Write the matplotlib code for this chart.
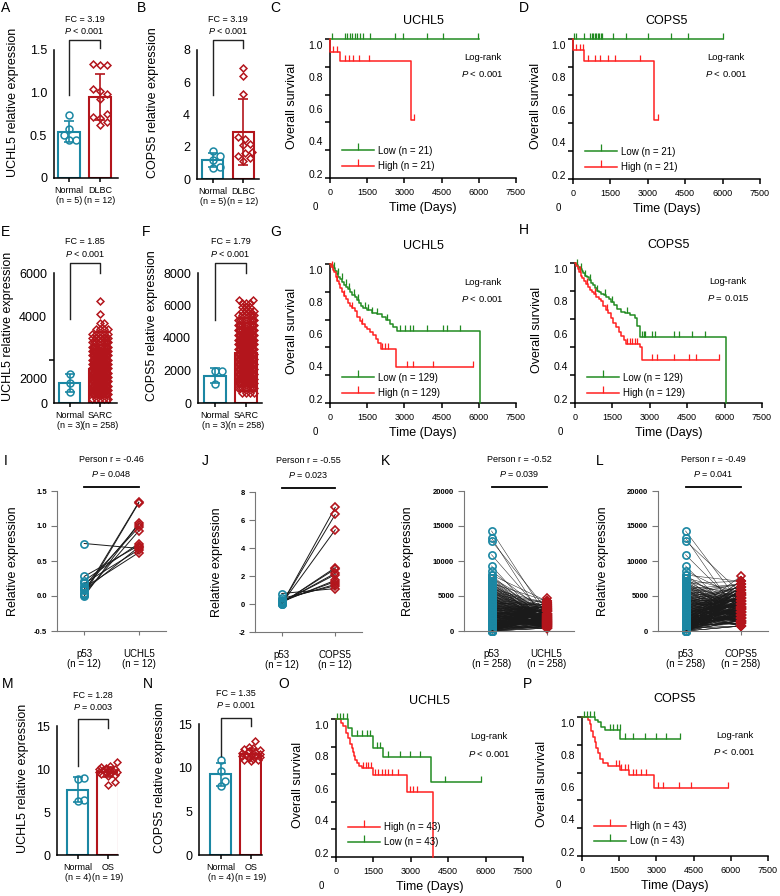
import numpy as np
import matplotlib
matplotlib.use('Agg')
import matplotlib.pyplot as plt
from matplotlib.lines import Line2D
from matplotlib.ticker import FixedLocator

plt.rcParams['font.family'] = ['Liberation Sans', 'DejaVu Sans']
plt.rcParams['mathtext.fontset'] = 'custom'
plt.rcParams['mathtext.it'] = 'Liberation Sans:italic'
plt.rcParams['mathtext.rm'] = 'Liberation Sans'

TEAL = '#1b87a3'
DRED = '#b3151c'
GREEN = '#228b22'
RED = '#ff2020'

# ---------------- data ----------------
# A / B : DLBC
a_normal = [0.74, 0.58, 0.50, 0.45, 0.44]
a_dlbc = [1.34, 1.33, 1.32, 1.04, 1.02, 0.98, 0.93, 0.75, 0.72, 0.70, 0.66, 0.62]
b_normal = [1.75, 1.45, 1.20, 0.75, 0.70]
b_dlbc = [6.9, 6.4, 5.3, 2.6, 2.5, 2.2, 2.1, 1.7, 1.6, 1.4, 1.3, 1.1]

e_normal = [1340, 920, 510]
e_sarc_levels = [200, 400, 600, 800, 1000, 1200, 1400, 1600, 1800, 2000, 2200, 2400,
                 2600, 2800, 3000, 3200, 3400, 3700, 4100, 4700]
e_sarc_counts = [5, 14, 20, 24, 26, 26, 24, 22, 18, 16, 14, 12, 10, 8, 6, 5, 4, 2, 1, 1]
f_normal = [1950, 1950, 1150]
f_sarc_levels = [600, 900, 1200, 1500, 1800, 2100, 2400, 2700, 3000, 3300, 3600, 3900,
                 4200, 4500, 4800, 5100, 5400, 5650, 5900, 6150, 6350]
f_sarc_counts = [4, 8, 12, 16, 18, 20, 22, 22, 21, 20, 17, 16, 14, 12, 10, 8, 6, 4, 3, 3, 2]

# I / J : paired DLBC
i_p53 = [0.75, 0.28, 0.22, 0.18, 0.15, 0.12, 0.10, 0.08, 0.05, 0.03, 0.02, 0.00]
i_uchl5 = [0.68, 0.72, 0.75, 0.66, 0.98, 0.62, 1.02, 0.70, 1.34, 0.93, 1.33, 1.04]
j_p53 = [0.75, 0.40, 0.30, 0.22, 0.15, 0.12, 0.10, 0.08, 0.05, 0.03, 0.02, 0.00]
j_cops5 = [1.1, 1.3, 1.4, 1.6, 1.7, 2.1, 2.2, 2.5, 2.6, 5.3, 6.4, 6.9]

# K / L : paired SARC
k_p53_levels = [0, 400, 800, 1200, 1600, 2000, 2400, 2800, 3200, 3600, 4000, 4400, 4800,
                5200, 5600, 6000, 6400, 6800, 7200, 7600, 8000, 8600, 9300, 10900, 12900,
                13300, 14300]
k_p53_counts = [23, 25, 25, 23, 18, 16, 15, 14, 13, 12, 11, 10, 9, 8, 7, 6, 5, 4, 3, 3, 2,
                1, 1, 1, 1, 1, 1]
k_uchl5_levels = [400, 700, 1000, 1300, 1600, 1900, 2200, 2500, 2800, 3100, 3400, 3700,
                  4000, 4300, 4700]
k_uchl5_counts = [20, 26, 28, 28, 26, 24, 22, 20, 18, 15, 12, 9, 6, 3, 1]
l_cops5_levels = [700, 1100, 1500, 1900, 2300, 2700, 3100, 3500, 3900, 4300, 4700, 5100,
                  5500, 5900, 6300, 6700, 7100, 7800]
l_cops5_counts = [10, 16, 20, 22, 22, 22, 21, 20, 19, 18, 16, 14, 11, 9, 7, 6, 4, 1]

# M / N : OS
m_normal = [8.9, 8.8, 6.3, 6.45]
m_os = [10.3, 10.2, 10.1, 10.0, 10.0, 9.9, 9.9, 9.8, 9.8, 9.7, 9.7, 9.6, 9.5, 9.4, 9.3,
        9.2, 10.8, 8.1, 8.5]
n_normal = [10.9, 9.6, 8.5, 7.9]
n_os = [13.0, 12.4, 12.3, 12.1, 12.0, 11.9, 11.8, 11.7, 11.6, 11.5, 11.5, 11.4, 11.3, 11.2,
        11.1, 11.0, 10.9, 10.8, 10.9]

# Kaplan-Meier curves: step times, survival after each step, censor times
c_low_t = [0, 6000]
c_low_s = [1.0, 1.0]
c_low_c = [67, 600, 700, 800, 900, 1000, 1100, 1200, 1330, 1613, 2620, 2956, 3898, 4570, 5980]
c_high_t = [0, 20, 403, 3250, 3400]
c_high_s = [1.0, 0.91, 0.84, 0.42, 0.42]
c_high_c = [134, 269, 605, 780, 941, 1183, 1586, 3400]

d_low_t = [0, 6020]
d_low_s = [1.0, 1.0]
d_low_c = [40, 135, 430, 700, 760, 820, 880, 940, 1000, 1060, 1120, 1180, 1600, 2140,
           3010, 3950, 4610, 6020]
d_high_t = [0, 10, 430, 3240, 3410]
d_high_s = [1.0, 0.918, 0.84, 0.418, 0.418]
d_high_c = [135, 270, 400, 600, 870, 1070, 1400, 1670, 2680, 3410]

g_low_t = [0, 60, 130, 200, 270, 340, 420, 500, 580, 660, 740, 820, 900, 990, 1080, 1170,
           1260, 1350, 1500, 1700, 1900, 2100, 2250, 2400, 2550, 2700, 6050]
g_low_s = [1.0, 0.99, 0.97, 0.95, 0.93, 0.91, 0.89, 0.87, 0.85, 0.835, 0.82, 0.80, 0.78,
           0.76, 0.74, 0.72, 0.70, 0.68, 0.67, 0.65, 0.64, 0.62, 0.60, 0.57, 0.545, 0.52, 0.0]
g_low_c = [150, 320, 480, 650, 780, 950, 1120, 1400, 1550, 1700, 1900, 2300, 2822, 3024,
           3226, 3360, 3898, 4570, 4704, 5242]
g_high_t = [0, 50, 110, 170, 230, 290, 350, 410, 480, 560, 640, 720, 800, 900, 1000, 1100,
            1200, 1300, 1400, 1500, 1620, 1750, 1850, 1950, 2050, 2650, 5750]
g_high_s = [1.0, 0.98, 0.96, 0.94, 0.91, 0.88, 0.855, 0.83, 0.80, 0.77, 0.745, 0.72, 0.70,
            0.68, 0.66, 0.62, 0.59, 0.565, 0.55, 0.53, 0.51, 0.49, 0.46, 0.43, 0.39, 0.26, 0.26]
g_high_c = [100, 300, 560, 900, 1300, 2090, 2220, 2350, 3091, 3360, 4167, 5750]

h_low_t = [0, 60, 130, 200, 270, 340, 410, 480, 560, 640, 720, 800, 880, 960, 1050, 1150,
           1250, 1350, 1450, 1550, 1700, 1850, 2000, 2200, 2400, 2500, 2600, 6070]
h_low_s = [1.0, 0.985, 0.97, 0.955, 0.94, 0.925, 0.91, 0.90, 0.88, 0.86, 0.84, 0.82, 0.80,
           0.79, 0.78, 0.77, 0.76, 0.74, 0.72, 0.70, 0.67, 0.65, 0.64, 0.625, 0.61, 0.55,
           0.474, 0.0]
h_low_c = [100, 250, 420, 600, 900, 1200, 1500, 2100, 2681, 2750, 2815, 3083, 3217, 3954,
           4155, 4690, 5226]
h_high_t = [0, 50, 110, 170, 230, 300, 370, 450, 530, 610, 690, 770, 860, 950, 1040, 1130,
            1230, 1330, 1430, 1530, 1640, 1750, 1850, 1950, 2050, 2600, 2680, 5760]
h_high_s = [1.0, 0.98, 0.96, 0.935, 0.91, 0.89, 0.87, 0.85, 0.83, 0.81, 0.79, 0.775, 0.76,
            0.745, 0.73, 0.69, 0.665, 0.64, 0.61, 0.57, 0.54, 0.51, 0.48, 0.45, 0.42, 0.40,
            0.306, 0.306]
h_high_c = [200, 500, 800, 1300, 2100, 2200, 2300, 2400, 2480, 3083, 3284, 3954, 4557,
            4866, 5760]

o_low_t = [0, 494, 628, 1497, 1898, 3830, 5810]
o_low_s = [1.0, 0.935, 0.874, 0.79, 0.725, 0.54, 0.54]
o_low_c = [27, 160, 294, 428, 829, 1029, 1230, 1364, 1631, 1765, 2100, 2570, 2970, 3370,
           4370, 5810]
o_high_t = [0, 200, 294, 400, 494, 560, 628, 680, 722, 780, 829, 930, 1029, 1500, 2862, 3900]
o_high_s = [1.0, 0.97, 0.947, 0.90, 0.862, 0.82, 0.79, 0.76, 0.73, 0.70, 0.68, 0.66, 0.645,
            0.597, 0.469, 0.0]
o_high_c = [1100, 1200, 1300, 1400, 1565, 1700, 1830, 1960, 2100, 2230, 2500, 2970, 3100, 3240]

p_low_t = [0, 513, 645, 780, 916, 1548, 3970]
p_low_s = [1.0, 0.98, 0.964, 0.93, 0.904, 0.845, 0.845]
p_low_c = [69, 203, 337, 472, 1117, 1250, 1411, 1520, 1722, 2056, 2528, 3000, 3403, 3940]
p_high_t = [0, 243, 310, 380, 444, 510, 580, 650, 714, 848, 1050, 1520, 1890, 2895, 5895]
p_high_s = [1.0, 0.976, 0.952, 0.90, 0.856, 0.82, 0.78, 0.74, 0.70, 0.667, 0.648, 0.62,
            0.58, 0.492, 0.492]
p_high_c = [1387, 1480, 1590, 1722, 1855, 2056, 2190, 2390, 2595, 3060, 3260, 3930, 4400, 5880]

km_label_pos = [0.03, 0.265, 0.495, 0.73, 0.96]
km_labels = ['0.2', '0.4', '0.6', '0.8', '1.0']

# ---------------- figure ----------------
W, H = 780, 896
fig = plt.figure(figsize=(W / 100, H / 100), dpi=100)


def add_ax(x0, y0, x1, y1):
    ax = fig.add_axes([x0 / W, 1 - y1 / H, (x1 - x0) / W, (y1 - y0) / H])
    ax.box_px = (x1 - x0, y1 - y0)
    for s in ['top', 'right']:
        ax.spines[s].set_visible(False)
    return ax


def swarm_x(vals, sx, sy, d, half):
    vals = np.asarray(vals, float)
    xs = np.zeros(len(vals))
    steps = np.arange(d * 0.35, half + 1e-9, d * 0.35)
    cand = np.concatenate([[0.0], np.column_stack([steps, -steps]).ravel()])
    px = np.empty(0)
    py = np.empty(0)
    for i in np.argsort(vals, kind='stable'):
        y = vals[i] * sy
        if len(px) == 0:
            best = 0.0
        else:
            dist = np.array([np.min(np.hypot(px - c, py - y)) for c in cand])
            ok = np.nonzero(dist >= d)[0]
            best = cand[ok[0]] if len(ok) else cand[np.argmax(dist)]
        px = np.append(px, best)
        py = np.append(py, y)
        xs[i] = best / sx
    return xs


def ylab(ax, text, off_px, dy_px=0):
    # off_px: distance from the axis to the centre of the rotated label
    wpx, hpx = ax.box_px
    ax.set_ylabel(text, fontsize=9)
    ax.yaxis.set_label_coords(-(off_px - 6) / wpx, 0.5 + dy_px / hpx)


def bar_panel(box, normal, tumor, xlabels, ymax, yticks, ylabels, ylabel, ylab_px, xlim,
              fc, ptxt, bracket, label_pos=None):
    ax = add_ax(*box)
    wpx, hpx = ax.box_px
    ax.set_xlim(*xlim)
    ax.set_ylim(0, ymax)
    sx = wpx / (xlim[1] - xlim[0])
    sy = hpx / ymax
    for i, (vals, col, mk, ms) in enumerate([(normal, TEAL, 'o', 5.0), (tumor, DRED, 'D', 3.5)]):
        vals = np.asarray(vals, float)
        m, sd = vals.mean(), vals.std(ddof=1)
        ax.bar(i, m, width=0.7, facecolor='white', edgecolor=col, lw=1.5, zorder=1)
        big = len(vals) > 50
        xs = i + swarm_x(vals, sx, sy, 4.0 if big else 6.5, 8.5 if big else 10.0)
        ax.plot(xs, vals, ls='none', marker=mk, ms=ms, mfc='none', mec=col, mew=1.1,
                zorder=2, clip_on=False)
        ax.errorbar(i, m, yerr=sd, color=col, capsize=3.5, elinewidth=1.2, capthick=1.2,
                    zorder=3)
    top, lft, rgt = bracket
    ax.plot([0, 0, 1, 1], [lft, top, top, rgt], color='#222', lw=1.0, clip_on=False)
    ax.annotate(fc, xy=(0.5, 1), xycoords=('data', 'axes fraction'), xytext=(0, 31),
                textcoords='offset pixels', ha='center', va='center', fontsize=6.5)
    ax.annotate(ptxt, xy=(0.5, 1), xycoords=('data', 'axes fraction'), xytext=(0, 19),
                textcoords='offset pixels', ha='center', va='center', fontsize=6.5)
    ax.set_xticks([0, 1], xlabels, fontsize=6.5, linespacing=1.05)
    ax.tick_params(axis='x', length=3, width=1.1, pad=3)
    if label_pos is None:
        label_pos = yticks
    ax.set_yticks(label_pos, ylabels, fontsize=9)
    ax.yaxis.set_minor_locator(FixedLocator(yticks))
    ax.tick_params(axis='y', which='major', length=0, pad=5)
    ax.tick_params(axis='y', which='minor', length=3.5, width=1.1)
    for s in ['left', 'bottom']:
        ax.spines[s].set_linewidth(1.1)
    ylab(ax, ylabel, ylab_px, 12)
    return ax


def km_panel(box, title, curves, logp, leg_y, zero_dx=15, ylab_px=38):
    ax = add_ax(*box)
    wpx, hpx = ax.box_px
    handles = []
    labels = []
    for t, s, cens, col, lab in curves:
        t = np.asarray(t, float)
        s = np.asarray(s, float)
        ax.step(t, s, where='post', color=col, lw=1.1, clip_on=False, zorder=3)
        idx = np.searchsorted(t, cens, side='right') - 1
        ax.plot(cens, s[idx], ls='none', marker=2, ms=4, mew=0.9, color=col, clip_on=False,
                zorder=3)
        handles.append(Line2D([], [], color=col, lw=1.1, marker=2, ms=5, mew=0.9))
        labels.append(lab)
    ax.set_xlim(0, 7500)
    ax.set_ylim(0, 1)
    ax.set_xticks([0, 1500, 3000, 4500, 6000, 7500])
    ax.tick_params(axis='x', labelsize=6.5, length=3.5, width=1.1, pad=4)
    ax.set_yticks(km_label_pos, km_labels, fontsize=7.5)
    ax.yaxis.set_minor_locator(FixedLocator([0, 0.2, 0.4, 0.6, 0.8, 1.0]))
    ax.tick_params(axis='y', which='major', length=0, pad=5)
    ax.tick_params(axis='y', which='minor', length=3.5, width=1.1)
    for s in ['left', 'bottom']:
        ax.spines[s].set_linewidth(1.1)
    ax.legend(handles, labels, loc='lower left', bbox_to_anchor=(12 / wpx, leg_y),
              frameon=False, fontsize=7, handlelength=3.3, handletextpad=0.4,
              labelspacing=0.55, borderpad=0, borderaxespad=0)
    ax.text(-zero_dx / wpx, -29 / hpx, '0', transform=ax.transAxes, ha='center',
            va='center', fontsize=7)
    ax.text(0.5, 1 + 18 / hpx, title, transform=ax.transAxes, ha='center', va='center',
            fontsize=9)
    ax.text(0.82, 0.87, 'Log-rank', transform=ax.transAxes, ha='center', va='center',
            fontsize=6.8)
    ax.text(0.82, 0.75, logp, transform=ax.transAxes, ha='center', va='center', fontsize=6.8)
    ax.set_xlabel('Time (Days)', fontsize=9)
    ax.xaxis.set_label_coords(0.5, -24 / hpx)
    ylab(ax, 'Overall survival', ylab_px, 3)
    return ax


def paired_panel(box, left, right, xlabels, ylim, yticks, ylabels, rtxt, ptxt, ylab_px, lw,
                 order=None):
    ax = add_ax(*box)
    wpx, hpx = ax.box_px
    ax.set_xlim(-0.5, 1.5)
    ax.set_ylim(*ylim)
    left = np.asarray(left, float)
    right = np.asarray(right, float)
    partner = right if order is None else right[order]
    for a, b in zip(left, partner):
        ax.plot([0, 1], [a, b], color='#1a1a1a', lw=lw, zorder=1)
    ax.plot(np.zeros(len(left)), left, ls='none', marker='o', ms=5.2, mfc='none', mec=TEAL,
            mew=1.2, zorder=2, clip_on=False)
    ax.plot(np.ones(len(right)), right, ls='none', marker='D', ms=3.7, mfc='none', mec=DRED,
            mew=1.2, zorder=2, clip_on=False)
    top = ylim[1] + 4 / hpx * (ylim[1] - ylim[0])
    ax.plot([0, 1], [top, top], color='k', lw=1.3, clip_on=False)
    ax.annotate(rtxt, xy=(0.5, 1), xycoords=('data', 'axes fraction'), xytext=(0, 32),
                textcoords='offset pixels', ha='center', va='center', fontsize=6.5)
    ax.annotate(ptxt, xy=(0.5, 1), xycoords=('data', 'axes fraction'), xytext=(0, 17),
                textcoords='offset pixels', ha='center', va='center', fontsize=6.5)
    ax.set_xticks([0, 1], xlabels, fontsize=7, linespacing=1.05)
    ax.set_yticks(yticks, ylabels, fontsize=5.5, fontweight='bold')
    ax.tick_params(axis='x', length=3, width=0.8, color='#777', pad=10)
    ax.tick_params(axis='y', length=4, width=0.8, color='#777', pad=3)
    for s in ['left', 'bottom']:
        ax.spines[s].set_linewidth(0.8)
        ax.spines[s].set_color('#777')
    ylab(ax, 'Relative expression', ylab_px)
    return ax


# row 1
bar_panel((54, 50, 118, 178), a_normal, a_dlbc, ['Normal\n(n = 5)', 'DLBC\n(n = 12)'],
          1.5, [0, 0.5, 1.0, 1.5], ['0', '0.5', '1.0', '1.5'], 'UCHL5 relative expression',
          41, (-0.48, 1.58), 'FC = 3.19', r'$P$ < 0.001', (1.62, 0.97, 1.52))
bar_panel((197, 50, 259, 179), b_normal, b_dlbc, ['Normal\n(n = 5)', 'DLBC\n(n = 12)'],
          8, [0, 2, 4, 6, 8], ['0', '2', '4', '6', '8'], 'COPS5 relative expression',
          44, (-0.53, 1.53), 'FC = 3.19', r'$P$ < 0.001', (8.62, 5.2, 8.1))
km_panel((330, 39, 516, 178), 'UCHL5',
         [(c_low_t, c_low_s, c_low_c, GREEN, 'Low (n = 21)'),
          (c_high_t, c_high_s, c_high_c, RED, 'High (n = 21)')], r'$P$ < 0.001', 0.05)
km_panel((573, 39, 760, 179), 'COPS5',
         [(d_low_t, d_low_s, d_low_c, GREEN, 'Low (n = 21)'),
          (d_high_t, d_high_s, d_high_c, RED, 'High (n = 21)')], r'$P$ < 0.001', 0.05,
         ylab_px=37)

# row 2
e_sarc = np.repeat(e_sarc_levels, e_sarc_counts)
f_sarc = np.repeat(f_sarc_levels, f_sarc_counts)
bar_panel((54, 273, 117, 403), e_normal, e_sarc, ['Normal\n(n = 3)', 'SARC\n(n = 258)'],
          6000, [0, 2000, 4000, 6000], ['0', '2000', '4000', '6000'],
          'UCHL5 relative expression', 46, (-0.53, 1.57), 'FC = 1.85', r'$P$ < 0.001',
          (6460, 3880, 6000), label_pos=[0, 1150, 4000, 6000])
bar_panel((198, 273, 262, 403), f_normal, f_sarc, ['Normal\n(n = 3)', 'SARC\n(n = 258)'],
          8000, [0, 2000, 4000, 6000, 8000], ['0', '2000', '4000', '6000', '8000'],
          'COPS5 relative expression', 46, (-0.55, 1.52), 'FC = 1.79', r'$P$ < 0.001',
          (8615, 5100, 8000))
km_panel((330, 264, 516, 403), 'UCHL5',
         [(g_low_t, g_low_s, g_low_c, GREEN, 'Low (n = 129)'),
          (g_high_t, g_high_s, g_high_c, RED, 'High (n = 129)')], r'$P$ < 0.001', 0.035)
km_panel((575, 263, 762, 403), 'COPS5',
         [(h_low_t, h_low_s, h_low_c, GREEN, 'Low (n = 129)'),
          (h_high_t, h_high_s, h_high_c, RED, 'High (n = 129)')], r'$P$ = 0.015', 0.035)

# row 3
paired_panel((57, 491, 166, 631), i_p53, i_uchl5, ['p53\n(n = 12)', 'UCHL5\n(n = 12)'],
             (-0.5, 1.5), [-0.5, 0, 0.5, 1.0, 1.5], ['-0.5', '0.0', '0.5', '1.0', '1.5'],
             'Person r = -0.46', r'$P$ = 0.048', 44, 0.7)
paired_panel((255, 492, 362, 632), j_p53, j_cops5, ['p53\n(n = 12)', 'COPS5\n(n = 12)'],
             (-2, 8), [-2, 0, 2, 4, 6, 8], ['-2', '0', '2', '4', '6', '8'],
             'Person r = -0.55', r'$P$ = 0.023', 38, 0.7)
k_p53 = np.sort(np.repeat(k_p53_levels, k_p53_counts))
k_uchl5 = np.sort(np.repeat(k_uchl5_levels, k_uchl5_counts))
l_cops5 = np.sort(np.repeat(l_cops5_levels, l_cops5_counts))
# pairing order for the 258 samples: a fixed stride through the sorted partner values
mix = (np.arange(len(k_p53)) * 97) % len(k_p53)
yk = [0, 5000, 10000, 15000, 20000]
paired_panel((464, 491, 574, 631), k_p53, k_uchl5, ['p53\n(n = 258)', 'UCHL5\n(n = 258)'],
             (0, 20000), yk, [str(v) for v in yk], 'Person r = -0.52', r'$P$ = 0.039', 56,
             0.35, order=mix)
paired_panel((658, 491, 768, 631), k_p53, l_cops5, ['p53\n(n = 258)', 'COPS5\n(n = 258)'],
             (0, 20000), yk, [str(v) for v in yk], 'Person r = -0.49', r'$P$ = 0.041', 55,
             0.35, order=mix)

# row 4
bar_panel((57, 726, 118, 855), m_normal, m_os, ['Normal\n(n = 4)', 'OS\n(n = 19)'],
          15, [0, 5, 10, 15], ['0', '5', '10', '15'], 'UCHL5 relative expression',
          34, (-0.68, 1.33), 'FC = 1.28', r'$P$ = 0.003', (15.86, 10.3, 14.8))
bar_panel((199, 724, 262, 855), n_normal, n_os, ['Normal\n(n = 4)', 'OS\n(n = 19)'],
          15, [0, 5, 10, 15], ['0', '5', '10', '15'], 'COPS5 relative expression',
          39, (-0.73, 1.37), 'FC = 1.35', r'$P$ = 0.001', (15.72, 11.3, 14.8))
km_panel((336, 719, 523, 857), 'UCHL5',
         [(o_high_t, o_high_s, o_high_c, RED, 'High (n = 43)'),
          (o_low_t, o_low_s, o_low_c, GREEN, 'Low (n = 43)')], r'$P$ < 0.001', 0.07)
km_panel((582, 717, 768, 856), 'COPS5',
         [(p_high_t, p_high_s, p_high_c, RED, 'High (n = 43)'),
          (p_low_t, p_low_s, p_low_c, GREEN, 'Low (n = 43)')], r'$P$ < 0.001', 0.07,
         zero_dx=24, ylab_px=40)

letters = [('A', 6, 8), ('B', 142, 8), ('C', 275, 8), ('D', 524, 8),
           ('E', 6, 232), ('F', 146, 232), ('G', 276, 232), ('H', 524, 230),
           ('I', 6, 461), ('J', 205, 461), ('K', 385, 461), ('L', 600, 461),
           ('M', 8, 684), ('N', 148, 684), ('O', 284, 684), ('P', 527, 684)]
for t, x, y in letters:
    fig.text(x / W, 1 - y / H, t, ha='center', va='center', fontsize=10)

fig.savefig('out.png', dpi=100)
